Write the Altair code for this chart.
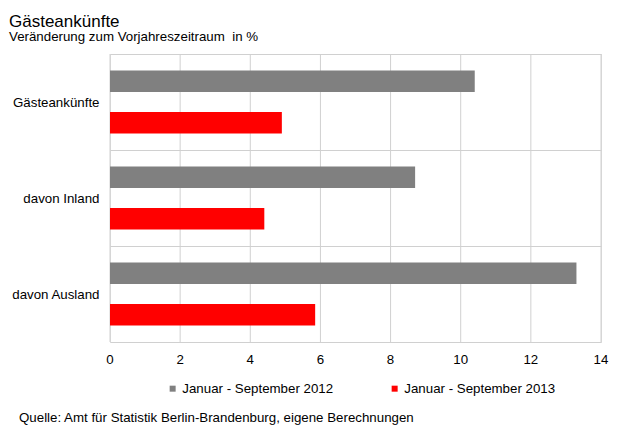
import altair as alt
import pandas as pd

categories = ["Gästeankünfte", "davon Inland", "davon Ausland"]
series = ["Januar - September 2012", "Januar - September 2013"]
values_2012 = [10.4, 8.7, 13.3]
values_2013 = [4.9, 4.4, 5.85]
x_ticks = [0, 2, 4, 6, 8, 10, 12, 14]
x_tick_labels = ["0", "2", "4", "6", "8", "10", "12", "14"]
colors = ["#808080", "#ff0000"]
title_text = "Gästeankünfte"
subtitle_text = "Veränderung zum Vorjahreszeitraum\u00a0 in %"
source_text = "Quelle: Amt für Statistik Berlin-Brandenburg, eigene Berechnungen"

rows = []
for c, a, b in zip(categories, values_2012, values_2013):
    rows.append({"Kategorie": c, "Zeitraum": series[0], "Wert": a})
    rows.append({"Kategorie": c, "Zeitraum": series[1], "Wert": b})
df = pd.DataFrame(rows)
grid_df = pd.DataFrame({"v": x_ticks, "lab": x_tick_labels})

FONT = "Liberation Sans"
FS = 13.3
GRID = "#d0d0d0"
W, H = 491, 288

x_scale = alt.Scale(domain=[0, 14], nice=False, zero=True)
y_axis = alt.Axis(title=None, grid=True, gridColor=GRID, tickBand="extent",
                  domain=False, ticks=False, labelPadding=11,
                  labelFontSize=FS, labelFont=FONT, labelColor="#000")

vgrid = alt.Chart(grid_df).mark_rule(color=GRID, strokeWidth=1).encode(
    x=alt.X("v:Q", scale=x_scale, axis=None),
)

xlabels = alt.Chart(grid_df).mark_text(
    align="center", baseline="top", fontSize=FS, font=FONT, color="#000"
).encode(
    x=alt.X("v:Q", scale=x_scale, axis=None),
    y=alt.value(H + 11),
    text="lab:N",
)

base = alt.Chart(df).mark_bar().encode(
    x=alt.X("Wert:Q", scale=x_scale, axis=None),
    y=alt.Y("Kategorie:N", sort=categories,
            scale=alt.Scale(paddingInner=0, paddingOuter=0), axis=y_axis),
    yOffset=alt.YOffset("Zeitraum:N", sort=series,
                        scale=alt.Scale(paddingInner=0.48, paddingOuter=0.394)),
    color=alt.Color(
        "Zeitraum:N", sort=series,
        scale=alt.Scale(domain=series, range=colors),
        legend=alt.Legend(title=None, orient="none", legendX=56, legendY=328,
                          direction="horizontal", symbolType="square",
                          symbolSize=36, symbolStrokeWidth=0, labelFontSize=FS,
                          labelFont=FONT, labelColor="#000", columnPadding=54,
                          labelOffset=3, padding=0, offset=0),
    ),
)

under = base.mark_bar(opacity=0)


def txt(t, x, y, size):
    return alt.Chart(pd.DataFrame({"t": [t]})).mark_text(
        align="left", baseline="alphabetic", fontSize=size, font=FONT, color="#000"
    ).encode(x=alt.value(x), y=alt.value(y), text="t:N")


chart = alt.layer(
    under,
    vgrid,
    base,
    xlabels,
    txt(title_text, -101, -27.3, 17),
    txt(subtitle_text, -101, -12.7, FS),
    txt(source_text, -91, 368, FS),
).properties(
    width=W, height=H,
    padding={"left": 102, "top": 46, "right": 8, "bottom": 84},
    autosize=alt.AutoSizeParams(type="none"),
).configure_view(stroke=GRID, strokeWidth=1).configure(background="white")

chart.save("out.html", embed_options={"renderer": "svg", "actions": False})
